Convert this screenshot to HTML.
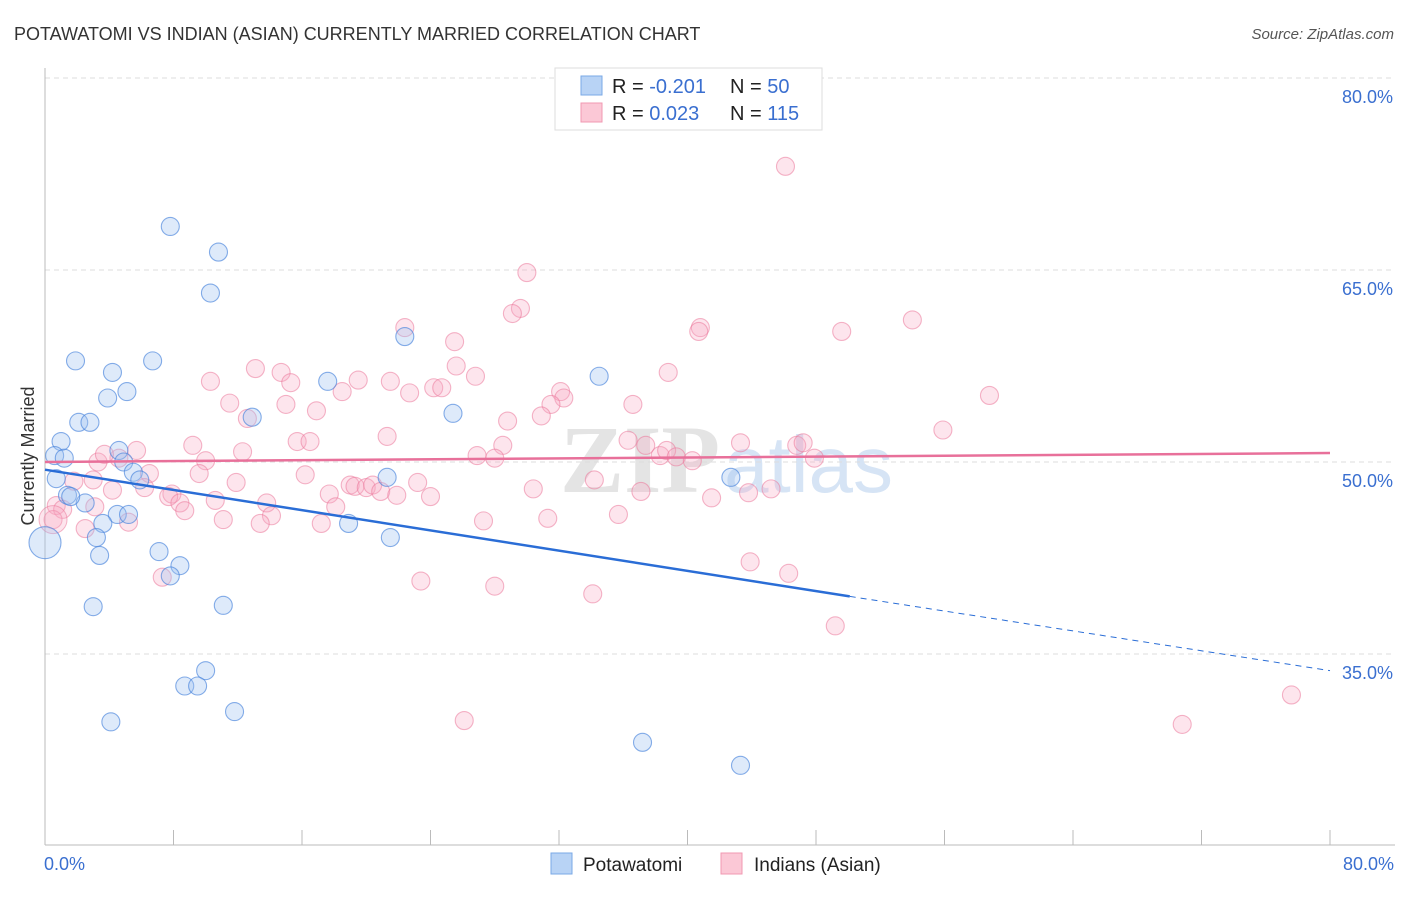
<!DOCTYPE html>
<html><head><meta charset="utf-8"><style>
body{margin:0;background:#fff;font-family:"Liberation Sans",sans-serif;}
</style></head><body>
<svg id="chart" width="1406" height="892" xmlns="http://www.w3.org/2000/svg">
<text x="14" y="40" font-size="18" fill="#333">POTAWATOMI VS INDIAN (ASIAN) CURRENTLY MARRIED CORRELATION CHART</text>
<text x="1394" y="39" font-size="15" fill="#555" font-style="italic" text-anchor="end">Source: ZipAtlas.com</text>
<text x="720" y="492" font-size="96" fill="#e4e4e4" text-anchor="end" font-family="Liberation Serif" font-weight="bold">ZIP</text>
<text x="724" y="492" font-size="80" fill="#d6e4f5">atlas</text>
<g id="grid"></g><g id="axes"></g><g id="pts"></g><g id="lines"></g>
<text transform="translate(34,456) rotate(-90)" font-size="18" fill="#333" text-anchor="middle">Currently Married</text>
<g>
<rect x="555" y="68" width="267" height="62" fill="#fff" stroke="#ddd"/>
<rect x="581" y="76" width="21" height="19" fill="#b8d3f5" stroke="#7aa8e6"/>
<rect x="581" y="103" width="21" height="19" fill="#fbc8d6" stroke="#f098b2"/>
<text x="612" y="93" font-size="20" fill="#222">R = <tspan fill="#3a6fd0">-0.201</tspan></text>
<text x="730" y="93" font-size="20" fill="#222">N = <tspan fill="#3a6fd0"> 50</tspan></text>
<text x="612" y="120" font-size="20" fill="#222">R = <tspan fill="#3a6fd0"> 0.023</tspan></text>
<text x="730" y="120" font-size="20" fill="#222">N = <tspan fill="#3a6fd0">115</tspan></text>
</g>
<g>
<rect x="551" y="853" width="21" height="21" fill="#b8d3f5" stroke="#7aa8e6"/>
<text x="583" y="871" font-size="19" fill="#222">Potawatomi</text>
<rect x="721" y="853" width="21" height="21" fill="#fbc8d6" stroke="#f098b2"/>
<text x="754" y="871" font-size="19" fill="#222">Indians (Asian)</text>
</g>
<text x="44" y="870" font-size="18" fill="#3a6fd0">0.0%</text>
<text x="1394" y="870" font-size="18" fill="#3a6fd0" text-anchor="end">80.0%</text>
</svg>
<script>
const yTicks=[80,65,50,35];
const yTickLabels=["80.0%","65.0%","50.0%","35.0%"];
const blueX=[7.8,10.8,10.3,22.4,1.9,6.7,4.2,17.6,34.5,5.1,3.9,2.1,2.8,12.9,25.4,1.0,0.6,1.2,4.6,4.9,5.5,5.9,21.3,0.7,1.4,2.5,1.6,4.5,5.2,3.6,18.9,3.2,21.5,0,3.4,7.1,8.4,7.8,3.0,11.1,10.0,8.7,9.5,11.8,4.1,37.2,43.3,42.7];
const blueY=[68.4,66.4,63.2,59.8,57.9,57.9,57.0,56.3,56.7,55.5,55.0,53.1,53.1,53.5,53.8,51.6,50.5,50.3,50.9,50.0,49.2,48.6,48.8,48.7,47.4,46.8,47.3,45.9,45.9,45.2,45.2,44.1,44.1,43.7,42.7,43.0,41.9,41.1,38.7,38.8,33.7,32.5,32.5,30.5,29.7,28.1,26.3,48.8];
const blueSize=[1,1,1,1,1,1,1,1,1,1,1,1,1,1,1,1,1,1,1,1,1,1,1,1,1,1,1,1,1,1,1,1,1,2,1,1,1,1,1,1,1,1,1,1,1,1,1,1];
const pinkX=[46.1,30.0,29.6,29.1,22.4,40.8,40.7,49.6,54.0,25.5,13.1,14.7,25.6,26.8,38.8,10.3,15.3,19.5,21.5,18.5,24.2,24.7,22.7,32.1,32.3,58.8,11.5,15.0,31.5,36.6,16.9,12.6,28.8,30.9,55.9,21.3,9.2,15.7,16.5,28.5,36.3,37.4,43.3,46.8,47.2,5.7,12.3,26.9,28.0,38.3,38.7,39.3,40.3,47.9,3.3,4.6,10.0,3.7,6.5,9.6,16.2,1.8,3.0,11.9,23.2,34.2,6.2,4.2,19.0,19.3,20.0,20.4,20.9,30.4,37.1,43.8,45.2,7.9,7.7,17.7,21.9,24.0,41.5,8.4,13.8,18.1,0.7,1.1,8.7,10.6,3.1,14.1,11.1,13.4,17.2,27.3,31.3,35.7,5.2,0.5,2.5,43.9,46.3,7.3,23.4,28.0,34.1,49.2,26.1,70.8,77.6];
const pinkY=[73.1,64.8,62.0,61.6,60.5,60.5,60.2,60.2,61.1,59.4,57.3,57.0,57.5,56.7,57.0,56.3,56.2,56.4,56.3,55.5,55.8,55.8,55.4,55.5,55.0,55.2,54.6,54.5,54.5,54.5,54.0,53.4,53.2,53.6,52.5,52.0,51.3,51.6,51.6,51.3,51.7,51.3,51.5,51.3,51.5,50.9,50.8,50.5,50.3,50.5,50.9,50.4,50.1,50.3,50.0,50.3,50.1,50.6,49.1,49.1,49.0,48.5,48.6,48.4,48.4,48.6,48.0,47.8,48.2,48.1,48.0,48.2,47.7,47.9,47.7,47.6,47.9,47.5,47.3,47.5,47.4,47.3,47.2,46.8,46.8,46.5,46.6,46.3,46.2,47.0,46.5,45.8,45.5,45.2,45.2,45.4,45.6,45.9,45.3,45.5,44.8,42.2,41.3,41.0,40.7,40.3,39.7,37.2,29.8,29.5,31.8];
const blueLine=[[0,49.4],[50.1,39.5],[80,33.7]];
const pinkLine=[[0,50.0],[80,50.7]];
const NS="http://www.w3.org/2000/svg";
const sx=v=>45+v*16.0625, sy=v=>462-(v-50)*12.8;
function mk(tag,attrs,parent){const e=document.createElementNS(NS,tag);for(const k in attrs)e.setAttribute(k,attrs[k]);document.getElementById(parent).appendChild(e);return e;}
yTicks.forEach((t,i)=>{
 const l=mk('line',{x1:45,x2:1395,y1:sy(t),y2:sy(t),stroke:'#ddd','stroke-dasharray':'5,4'},'grid');
 
 
 const tx=mk('text',{x:1393,y:sy(t)+25,'font-size':18,fill:'#3a6fd0','text-anchor':'end'},'grid');
 tx.textContent=yTickLabels[i];
 
 
});
let ax=mk('line',{x1:45,x2:45,y1:68,y2:845,stroke:'#bbb'},'axes');


ax=mk('line',{x1:45,x2:1395,y1:845,y2:845,stroke:'#bbb'},'axes');


for(let i=0;i<=10;i++){const x=sx(i*8);const t=mk('line',{x1:x,x2:x,y1:830,y2:845,stroke:'#bbb'},'axes');
 
 }
pinkX.forEach((v,i)=>{const c=mk('circle',{cx:sx(v),cy:sy(pinkY[i]),r:9,fill:'rgba(248,170,195,0.3)',stroke:'rgba(235,120,155,0.55)','stroke-width':1.1},'pts');
 
 });
mk('circle',{cx:sx(0.5),cy:sy(45.5),r:14,fill:'rgba(248,170,195,0.3)',stroke:'rgba(235,120,155,0.55)'},'pts');
blueX.forEach((v,i)=>{const c=mk('circle',{cx:sx(v),cy:sy(blueY[i]),r:blueSize[i]>1?16:9,fill:'rgba(160,195,240,0.35)',stroke:'rgba(70,130,220,0.65)','stroke-width':1.1},'pts');
 
 });
let p=mk('line',{x1:sx(pinkLine[0][0]),y1:sy(pinkLine[0][1]),x2:sx(pinkLine[1][0]),y2:sy(pinkLine[1][1]),stroke:'#e8709a','stroke-width':2.5},'lines');


p=mk('line',{x1:sx(blueLine[0][0]),y1:sy(blueLine[0][1]),x2:sx(blueLine[1][0]),y2:sy(blueLine[1][1]),stroke:'#2a6dd6','stroke-width':2.5},'lines');


p=mk('line',{x1:sx(blueLine[1][0]),y1:sy(blueLine[1][1]),x2:sx(blueLine[2][0]),y2:sy(blueLine[2][1]),stroke:'#2a6dd6','stroke-width':1,'stroke-dasharray':'6,5'},'lines');


</script>
</body></html>
